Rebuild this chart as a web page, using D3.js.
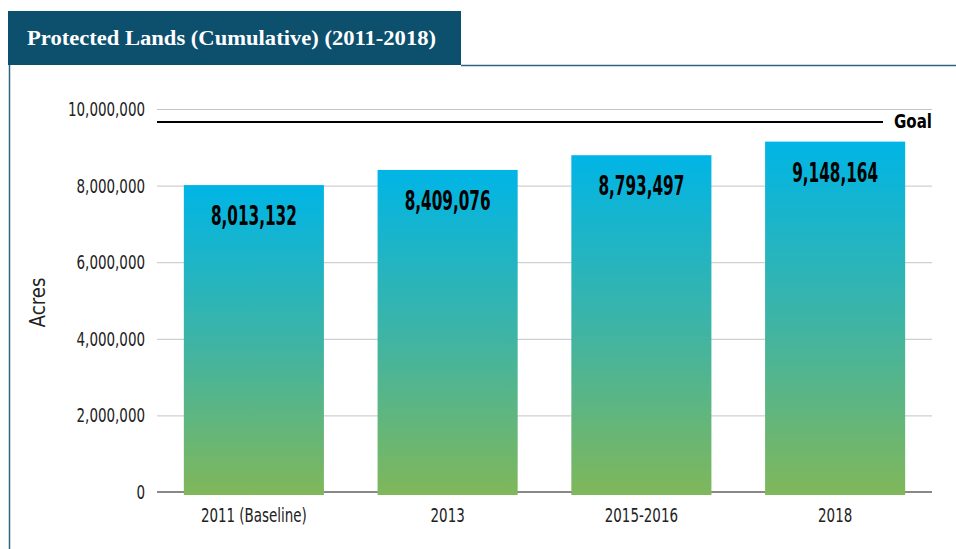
<!DOCTYPE html>
<html>
<head>
<meta charset="utf-8">
<script src="https://cdn.jsdelivr.net/npm/d3@7"></script>
<style>
  body { margin: 0; background: #fff; }
  svg { display: block; }
</style>
</head>
<body>
<script>
const categories = ["2011 (Baseline)", "2013", "2015-2016", "2018"];
const acres = [8013132, 8409076, 8793497, 9148164];
const goal = 9660000;
const yTicks = [0, 2000000, 4000000, 6000000, 8000000, 10000000];
const title = "Protected Lands (Cumulative) (2011-2018)";

const width = 956, height = 549;
const margin = { top: 109, right: 24, bottom: 57, left: 157 };
const narrow = "'DejaVu Sans Condensed', 'DejaVu Sans', sans-serif";

// squeeze a text selection horizontally so the widest item gets the target width
function squeeze(sel, target) {
  const widths = sel.nodes().map(n => n.getComputedTextLength());
  const k = target / d3.max(widths);
  sel.each(function (d, i) {
    d3.select(this)
      .attr("textLength", widths[i] * k)
      .attr("lengthAdjust", "spacingAndGlyphs");
  });
}

const svg = d3.select("body").append("svg")
  .attr("width", width)
  .attr("height", height);

// gradient for bars
const defs = svg.append("defs");
const grad = defs.append("linearGradient")
  .attr("id", "barGrad")
  .attr("x1", 0).attr("y1", 0).attr("x2", 0).attr("y2", 1);
grad.append("stop").attr("offset", "0%").attr("stop-color", "#00b5e6");
grad.append("stop").attr("offset", "50%").attr("stop-color", "#3db4a6");
grad.append("stop").attr("offset", "100%").attr("stop-color", "#80b75a");

// header box + frame
svg.append("rect")
  .attr("x", 8).attr("y", 11)
  .attr("width", 453).attr("height", 54)
  .attr("fill", "#0c506e");
svg.append("text")
  .attr("x", 27).attr("y", 45)
  .attr("fill", "#fff")
  .attr("font-family", "'Liberation Serif', 'DejaVu Serif', serif")
  .attr("font-weight", "bold")
  .attr("font-size", 21)
  .attr("textLength", 409)
  .attr("lengthAdjust", "spacingAndGlyphs")
  .text(title);
svg.append("path")
  .attr("d", `M461,65.5H${width} M9.5,65V${height}`)
  .attr("stroke", "#2e6584")
  .attr("stroke-width", 1.5)
  .attr("fill", "none");

const x = d3.scaleBand()
  .domain(categories)
  .range([margin.left, width - margin.right])
  .paddingInner(0.277)
  .paddingOuter(0.1385);

const y = d3.scaleLinear()
  .domain([0, 10000000])
  .range([height - margin.bottom, margin.top]);

// grid
svg.append("g")
  .selectAll("line")
  .data(yTicks.filter(d => d > 0))
  .join("line")
  .attr("x1", margin.left).attr("x2", width - margin.right)
  .attr("y1", d => y(d) + 0.5).attr("y2", d => y(d) + 0.5)
  .attr("stroke", "#c4c4c4")
  .attr("stroke-width", 1);

// y axis labels
const yAxis = svg.append("g")
  .attr("transform", `translate(${margin.left},0)`)
  .call(d3.axisLeft(y).tickValues(yTicks).tickFormat(d3.format(",")).tickSize(0).tickPadding(12));
yAxis.select(".domain").remove();
const yLabels = yAxis.selectAll("text")
  .attr("font-family", narrow)
  .attr("font-size", 20)
  .attr("fill", "#222");
squeeze(yLabels, 77);

// baseline
svg.append("line")
  .attr("x1", margin.left).attr("x2", width - margin.right)
  .attr("y1", y(0)).attr("y2", y(0))
  .attr("stroke", "#888")
  .attr("stroke-width", 2);

// bars
svg.append("g")
  .selectAll("rect")
  .data(acres)
  .join("rect")
  .attr("x", (d, i) => x(categories[i]))
  .attr("y", d => y(d))
  .attr("width", x.bandwidth())
  .attr("height", d => y(0) + 3 - y(d))
  .attr("fill", "url(#barGrad)");

// value labels
const valLabels = svg.append("g")
  .selectAll("text")
  .data(acres)
  .join("text")
  .attr("x", (d, i) => x(categories[i]) + x.bandwidth() / 2)
  .attr("y", d => y(d) + 40)
  .attr("text-anchor", "middle")
  .attr("font-family", narrow)
  .attr("font-weight", "bold")
  .attr("font-size", 27)
  .attr("fill", "#000")
  .text(d => d3.format(",")(d));
squeeze(valLabels, 86);

// goal line
svg.append("line")
  .attr("x1", margin.left).attr("x2", 883)
  .attr("y1", y(goal)).attr("y2", y(goal))
  .attr("stroke", "#000")
  .attr("stroke-width", 2);
const goalLabel = svg.append("text")
  .attr("x", width - margin.right)
  .attr("y", y(goal) + 5.5)
  .attr("text-anchor", "end")
  .attr("font-family", narrow)
  .attr("font-weight", "bold")
  .attr("font-size", 20)
  .attr("fill", "#000")
  .text("Goal");
squeeze(goalLabel, 38);

// x axis labels
const xAxis = svg.append("g")
  .attr("transform", `translate(0,${y(0)})`)
  .call(d3.axisBottom(x).tickSize(0).tickPadding(16));
xAxis.select(".domain").remove();
const xLabels = xAxis.selectAll("text")
  .attr("font-family", narrow)
  .attr("font-size", 20)
  .attr("fill", "#222");
squeeze(xLabels, 106);

// y title
const yTitle = svg.append("text")
  .attr("transform", `translate(45,${y(5000000) + 2}) rotate(-90)`)
  .attr("text-anchor", "middle")
  .attr("font-family", narrow)
  .attr("font-size", 22)
  .attr("fill", "#222")
  .text("Acres");
squeeze(yTitle, 50);
</script>
</body>
</html>
